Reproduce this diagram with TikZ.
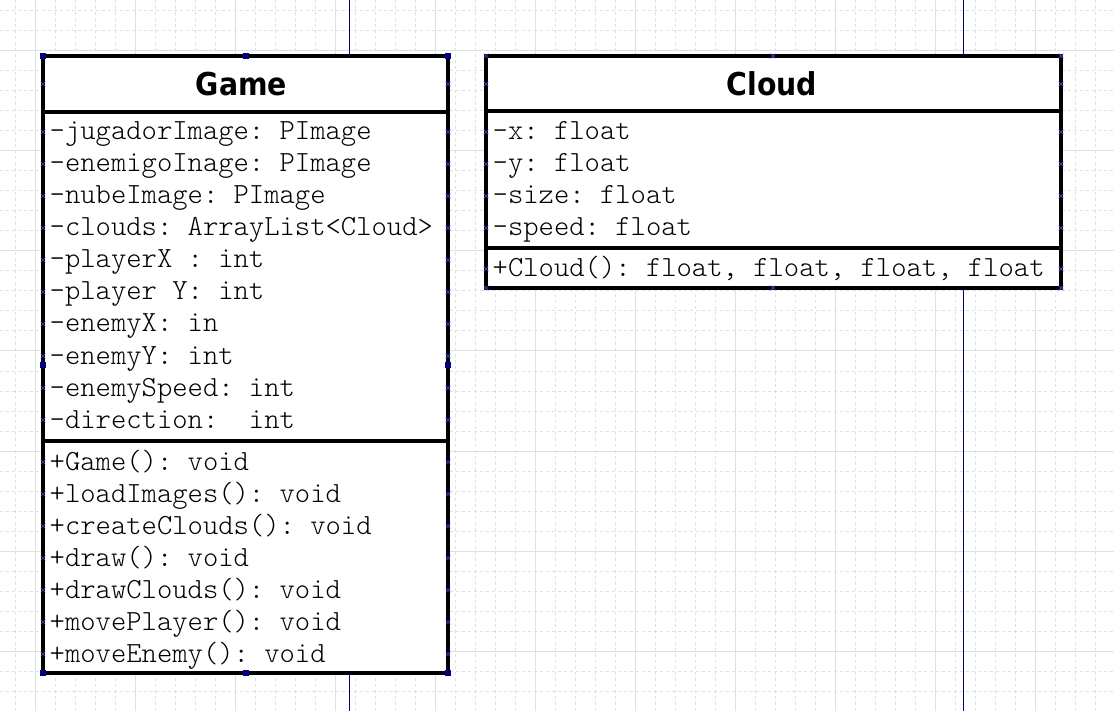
\documentclass[tikz,border=0pt]{standalone}
\usepackage{fontspec}
\setmonofont{Latin Modern Mono Light}
\newfontfamily\titlefont{DejaVu Sans Condensed}
\usetikzlibrary{shapes.misc}
\definecolor{gridcol}{HTML}{D6E5E3}
\definecolor{pagecol}{HTML}{000080}
\definecolor{pointcol}{HTML}{4646D2}
\begin{document}
\begin{tikzpicture}[x=1pt, y=-1pt,
  minorgrid/.style={gridcol, line width=1pt, dash pattern=on 3pt off 3pt},
  majorgrid/.style={gridcol, line width=1pt},
  classbox/.style={draw, line width=3.5pt, fill=white, inner sep=0pt},
  classline/.style={line width=3.5pt},
  classtitle/.style={anchor=base, inner sep=0pt, font=\titlefont\bfseries\fontsize{31.5}{32}\selectfont},
  member/.style={anchor=base west, inner sep=0pt, font=\ttfamily\fontsize{29.2}{32}\selectfont},
  handle/.style={draw=pagecol, fill=pagecol, minimum size=5pt, inner sep=0pt},
  pointmark/.style={cross out, draw=pointcol, line width=0.7pt, minimum size=4pt, inner sep=0pt}]
  \fill[white] (0,0) rectangle (1114,711);
  \useasboundingbox (0,0) rectangle (1114,711);
  % grid
  \foreach \gx in {15,35,...,1114} \draw[minorgrid] (\gx,0) -- (\gx,711);
  \foreach \gy in {11,31,...,711} \draw[minorgrid] (0,\gy) -- (1114,\gy);
  \foreach \gx in {35,135,...,1114} \draw[majorgrid] (\gx,0) -- (\gx,711);
  \foreach \gy in {51,151,...,711} \draw[majorgrid] (0,\gy) -- (1114,\gy);
  % page breaks
  \draw[pagecol, line width=1pt] (349,0) -- (349,711);
  \draw[pagecol, line width=1pt] (963,0) -- (963,711);

  \node[classbox, minimum width=405pt, minimum height=617pt] (game) at (245.5,364.5) {};
  \node[classbox, minimum width=575pt, minimum height=232pt] (cloud) at (773.5,172) {};
  \draw[classline] (game.west |- 0,112) -- (game.east |- 0,112);
  \draw[classline] (game.west |- 0,441) -- (game.east |- 0,441);
  \draw[classline] (cloud.west |- 0,111) -- (cloud.east |- 0,111);
  \draw[classline] (cloud.west |- 0,248) -- (cloud.east |- 0,248);

  \node[classtitle] (gtitle) at (241.5,96) {Game};
  \node[member] (ga1) at (49.5,140) {-jugadorImage: PImage};
  \node[member] (ga2) at (49.5,172) {-enemigoInage: PImage};
  \node[member] (ga3) at (49.5,204) {-nubeImage: PImage};
  \node[member] (ga4) at (49.5,236) {-clouds: ArrayList<Cloud>};
  \node[member] (ga5) at (49.5,268) {-playerX : int};
  \node[member] (ga6) at (49.5,300) {-player Y: int};
  \node[member] (ga7) at (49.5,332) {-enemyX: in};
  \node[member] (ga8) at (49.5,364) {-enemyY: int};
  \node[member] (ga9) at (49.5,396) {-enemySpeed: int};
  \node[member] (ga10) at (49.5,428) {-direction:\ \ int};
  \node[member] (gm1) at (49.5,470) {+Game(): void};
  \node[member] (gm2) at (49.5,502) {+loadImages(): void};
  \node[member] (gm3) at (49.5,534) {+createClouds(): void};
  \node[member] (gm4) at (49.5,566) {+draw(): void};
  \node[member] (gm5) at (49.5,598) {+drawClouds(): void};
  \node[member] (gm6) at (49.5,630) {+movePlayer(): void};
  \node[member] (gm7) at (49.5,662) {+moveEnemy(): void};

  \node[classtitle] (ctitle) at (772,96) {Cloud};
  \node[member] (ca1) at (492.5,140) {-x: float};
  \node[member] (ca2) at (492.5,172) {-y: float};
  \node[member] (ca3) at (492.5,204) {-size: float};
  \node[member] (ca4) at (492.5,236) {-speed: float};
  \node[member] (cm1) at (492.5,277) {+Cloud(): float, float, float, float};

  % selection handles and connection points
  \foreach \hx in {43,246,448} {
    \node[handle] at (\hx,56) {};
    \node[handle] at (\hx,673) {};
  }
  \node[handle] at (43,365) {};
  \node[handle] at (448,365) {};
  \foreach \py in {84,132,164,196,228,260,292,324,356,388,420,462,494,526,558,590,622,654}
    \foreach \px in {43,448} \node[pointmark] at (\px,\py) {};
  \foreach \py in {56,84,132,164,196,228,269,288}
    \foreach \px in {486,1061} \node[pointmark] at (\px,\py) {};
  \node[pointmark] at (773,56) {};
  \node[pointmark] at (773,288) {};
\end{tikzpicture}
\end{document}
